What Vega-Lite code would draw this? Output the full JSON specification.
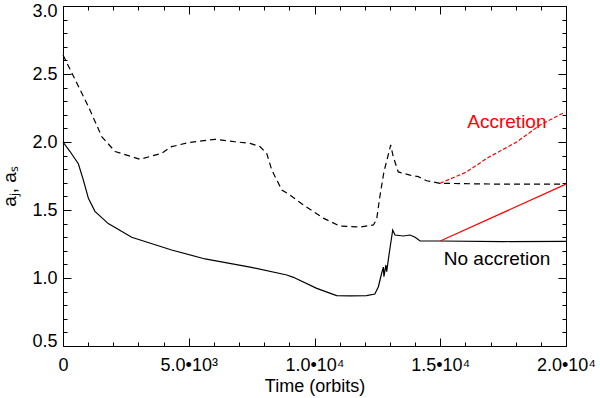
{
  "$schema": "https://vega.github.io/schema/vega-lite/v6.json",
  "autosize": {"type": "none"},
  "width": 503,
  "height": 340,
  "padding": {"left": 63, "top": 6, "right": 34, "bottom": 52},
  "background": "white",
  "config": {
    "view": {"stroke": null},
    "font": "Liberation Sans",
    "axis": {"grid": false, "domainColor": "black", "tickColor": "black", "labelColor": "black", "titleColor": "black", "labelFont": "Liberation Sans", "titleFont": "Liberation Sans", "labelFontSize": 18, "titleFontSize": 18, "titleFontWeight": "normal", "labelFlush": false, "labelOverlap": false, "labelBound": false, "domainWidth": 1, "tickWidth": 1}
  },
  "datasets": {
    "curves": [
      {"s": "J", "t": 0, "a": 2.0},
      {"s": "J", "t": 280, "a": 1.93},
      {"s": "J", "t": 610, "a": 1.84},
      {"s": "J", "t": 810, "a": 1.72},
      {"s": "J", "t": 1010, "a": 1.586},
      {"s": "J", "t": 1270, "a": 1.49},
      {"s": "J", "t": 1800, "a": 1.40},
      {"s": "J", "t": 2730, "a": 1.30},
      {"s": "J", "t": 4320, "a": 1.206},
      {"s": "J", "t": 5650, "a": 1.14},
      {"s": "J", "t": 7440, "a": 1.08},
      {"s": "J", "t": 8900, "a": 1.022},
      {"s": "J", "t": 9160, "a": 1.005},
      {"s": "J", "t": 10090, "a": 0.924},
      {"s": "J", "t": 10880, "a": 0.87},
      {"s": "J", "t": 11410, "a": 0.868},
      {"s": "J", "t": 12070, "a": 0.87},
      {"s": "J", "t": 12400, "a": 0.882},
      {"s": "J", "t": 12540, "a": 0.936},
      {"s": "J", "t": 12670, "a": 1.035},
      {"s": "J", "t": 12740, "a": 1.08},
      {"s": "J", "t": 12760, "a": 1.01},
      {"s": "J", "t": 12840, "a": 1.096},
      {"s": "J", "t": 12870, "a": 1.046},
      {"s": "J", "t": 12970, "a": 1.18},
      {"s": "J", "t": 13110, "a": 1.353},
      {"s": "J", "t": 13200, "a": 1.316},
      {"s": "J", "t": 13530, "a": 1.309},
      {"s": "J", "t": 13800, "a": 1.316},
      {"s": "J", "t": 14000, "a": 1.30},
      {"s": "J", "t": 14200, "a": 1.272},
      {"s": "J", "t": 15000, "a": 1.272},
      {"s": "J", "t": 17500, "a": 1.268},
      {"s": "J", "t": 20000, "a": 1.27},
      {"s": "S", "t": 0, "a": 2.64},
      {"s": "S", "t": 1010, "a": 2.26},
      {"s": "S", "t": 1540, "a": 2.04},
      {"s": "S", "t": 2070, "a": 1.93},
      {"s": "S", "t": 3060, "a": 1.873},
      {"s": "S", "t": 3920, "a": 1.917},
      {"s": "S", "t": 4320, "a": 1.966},
      {"s": "S", "t": 4980, "a": 1.995},
      {"s": "S", "t": 6040, "a": 2.02},
      {"s": "S", "t": 6840, "a": 2.002},
      {"s": "S", "t": 7440, "a": 1.99},
      {"s": "S", "t": 7830, "a": 1.966},
      {"s": "S", "t": 8100, "a": 1.917},
      {"s": "S", "t": 8300, "a": 1.794},
      {"s": "S", "t": 8700, "a": 1.647},
      {"s": "S", "t": 8960, "a": 1.618},
      {"s": "S", "t": 9560, "a": 1.537},
      {"s": "S", "t": 10350, "a": 1.44},
      {"s": "S", "t": 11010, "a": 1.382},
      {"s": "S", "t": 11810, "a": 1.375},
      {"s": "S", "t": 12340, "a": 1.39},
      {"s": "S", "t": 12470, "a": 1.43},
      {"s": "S", "t": 12600, "a": 1.60},
      {"s": "S", "t": 12760, "a": 1.78},
      {"s": "S", "t": 13030, "a": 1.978},
      {"s": "S", "t": 13130, "a": 1.892},
      {"s": "S", "t": 13330, "a": 1.78},
      {"s": "S", "t": 13800, "a": 1.757},
      {"s": "S", "t": 14130, "a": 1.745},
      {"s": "S", "t": 14460, "a": 1.715},
      {"s": "S", "t": 15000, "a": 1.696},
      {"s": "S", "t": 17500, "a": 1.69},
      {"s": "S", "t": 20000, "a": 1.69},
      {"s": "RL", "t": 15000, "a": 1.272},
      {"s": "RL", "t": 20000, "a": 1.69},
      {"s": "RU", "t": 14990, "a": 1.696},
      {"s": "RU", "t": 16050, "a": 1.78},
      {"s": "RU", "t": 16850, "a": 1.88},
      {"s": "RU", "t": 18040, "a": 2.0},
      {"s": "RU", "t": 18970, "a": 2.125},
      {"s": "RU", "t": 19960, "a": 2.22}
    ],
    "labels": [
      {"s": "RU", "t": 17650, "a": 2.103, "label": "Accretion"},
      {"s": "J", "t": 17260, "a": 1.096, "label": "No accretion"}
    ]
  },
  "layer": [
    {
      "data": {"name": "curves"},
      "transform": [{"filter": "datum.s == 'J'"}],
      "mark": {"type": "line", "color": "black", "strokeWidth": 1.2},
      "encoding": {
        "x": {"field": "t", "type": "quantitative", "scale": {"domain": [0, 20000], "nice": false, "zero": false},
          "axis": {"orient": "bottom", "values": [0, 5000, 10000, 15000, 20000], "ticks": false, "labelPadding": 10, "labelBaseline": "top",
            "labelExpr": "datum.value == 0 ? '0' : datum.value == 5000 ? '5.0•10³' : datum.value == 10000 ? '1.0•10⁴' : datum.value == 15000 ? '1.5•10⁴' : '2.0•10⁴'",
            "title": "Time (orbits)", "titleBaseline": "alphabetic", "titleY": 45}},
        "y": {"field": "a", "type": "quantitative", "scale": {"domain": [0.5, 3.0], "nice": false, "zero": false},
          "axis": {"orient": "left", "values": [0.5, 1.0, 1.5, 2.0, 2.5, 3.0], "format": ".1f", "ticks": false, "labelPadding": 6, "labelFlush": true, "labelFlushOffset": 4,
            "title": "aⱼ, aₛ", "titleFontSize": 19, "titleX": -54, "titleY": 180, "titleAngle": -90, "titleBaseline": "middle", "titleAlign": "center"}}
      }
    },
    {
      "data": {"name": "curves"},
      "transform": [{"filter": "datum.s == 'S'"}],
      "mark": {"type": "line", "color": "black", "strokeWidth": 1.2, "strokeDash": [6, 4]},
      "encoding": {
        "x": {"field": "t", "type": "quantitative",
          "axis": {"orient": "top", "offset": -340, "values": [0, 5000, 10000, 15000, 20000], "tickSize": 8, "labels": false, "domain": false, "title": null}},
        "y": {"field": "a", "type": "quantitative",
          "axis": {"orient": "right", "offset": -503, "values": [0.5, 1.0, 1.5, 2.0, 2.5, 3.0], "tickSize": 8, "labels": false, "domain": false, "title": null}}
      }
    },
    {
      "data": {"name": "curves"},
      "transform": [{"filter": "datum.s == 'RL'"}],
      "mark": {"type": "line", "color": "#ff0000", "strokeWidth": 1.2},
      "encoding": {
        "x": {"field": "t", "type": "quantitative",
          "axis": {"orient": "top", "offset": -340, "values": [1000, 2000, 3000, 4000, 6000, 7000, 8000, 9000, 11000, 12000, 13000, 14000, 16000, 17000, 18000, 19000], "tickSize": 4, "labels": false, "domain": false, "title": null}},
        "y": {"field": "a", "type": "quantitative",
          "axis": {"orient": "right", "offset": -503, "values": [0.6, 0.7, 0.8, 0.9, 1.1, 1.2, 1.3, 1.4, 1.6, 1.7, 1.8, 1.9, 2.1, 2.2, 2.3, 2.4, 2.6, 2.7, 2.8, 2.9], "tickSize": 4, "labels": false, "domain": false, "title": null}}
      }
    },
    {
      "data": {"name": "curves"},
      "transform": [{"filter": "datum.s == 'RU'"}],
      "mark": {"type": "line", "color": "#ff0000", "strokeWidth": 1.2, "strokeDash": [4, 2]},
      "encoding": {
        "x": {"field": "t", "type": "quantitative",
          "axis": {"orient": "bottom", "offset": -340, "values": [0, 5000, 10000, 15000, 20000], "tickSize": 8, "labels": false, "domain": true, "title": null}},
        "y": {"field": "a", "type": "quantitative",
          "axis": {"orient": "left", "offset": -503, "values": [0.5, 1.0, 1.5, 2.0, 2.5, 3.0], "tickSize": 8, "labels": false, "domain": true, "title": null}}
      }
    },
    {
      "data": {"name": "labels"},
      "transform": [{"filter": "datum.s == 'RU'"}],
      "mark": {"type": "text", "color": "#ff0000", "fontSize": 19, "font": "Liberation Sans", "align": "center", "baseline": "alphabetic"},
      "encoding": {
        "x": {"field": "t", "type": "quantitative",
          "axis": {"orient": "bottom", "offset": -340, "values": [1000, 2000, 3000, 4000, 6000, 7000, 8000, 9000, 11000, 12000, 13000, 14000, 16000, 17000, 18000, 19000], "tickSize": 4, "labels": false, "domain": false, "title": null}},
        "y": {"field": "a", "type": "quantitative",
          "axis": {"orient": "left", "offset": -503, "values": [0.6, 0.7, 0.8, 0.9, 1.1, 1.2, 1.3, 1.4, 1.6, 1.7, 1.8, 1.9, 2.1, 2.2, 2.3, 2.4, 2.6, 2.7, 2.8, 2.9], "tickSize": 4, "labels": false, "domain": false, "title": null}},
        "text": {"field": "label"}
      }
    },
    {
      "data": {"name": "labels"},
      "transform": [{"filter": "datum.s == 'J'"}],
      "mark": {"type": "text", "color": "black", "fontSize": 19, "font": "Liberation Sans", "align": "center", "baseline": "alphabetic"},
      "encoding": {
        "x": {"field": "t", "type": "quantitative", "axis": null},
        "y": {"field": "a", "type": "quantitative", "axis": null},
        "text": {"field": "label"}
      }
    }
  ],
  "resolve": {"axis": {"x": "independent", "y": "independent"}}
}
